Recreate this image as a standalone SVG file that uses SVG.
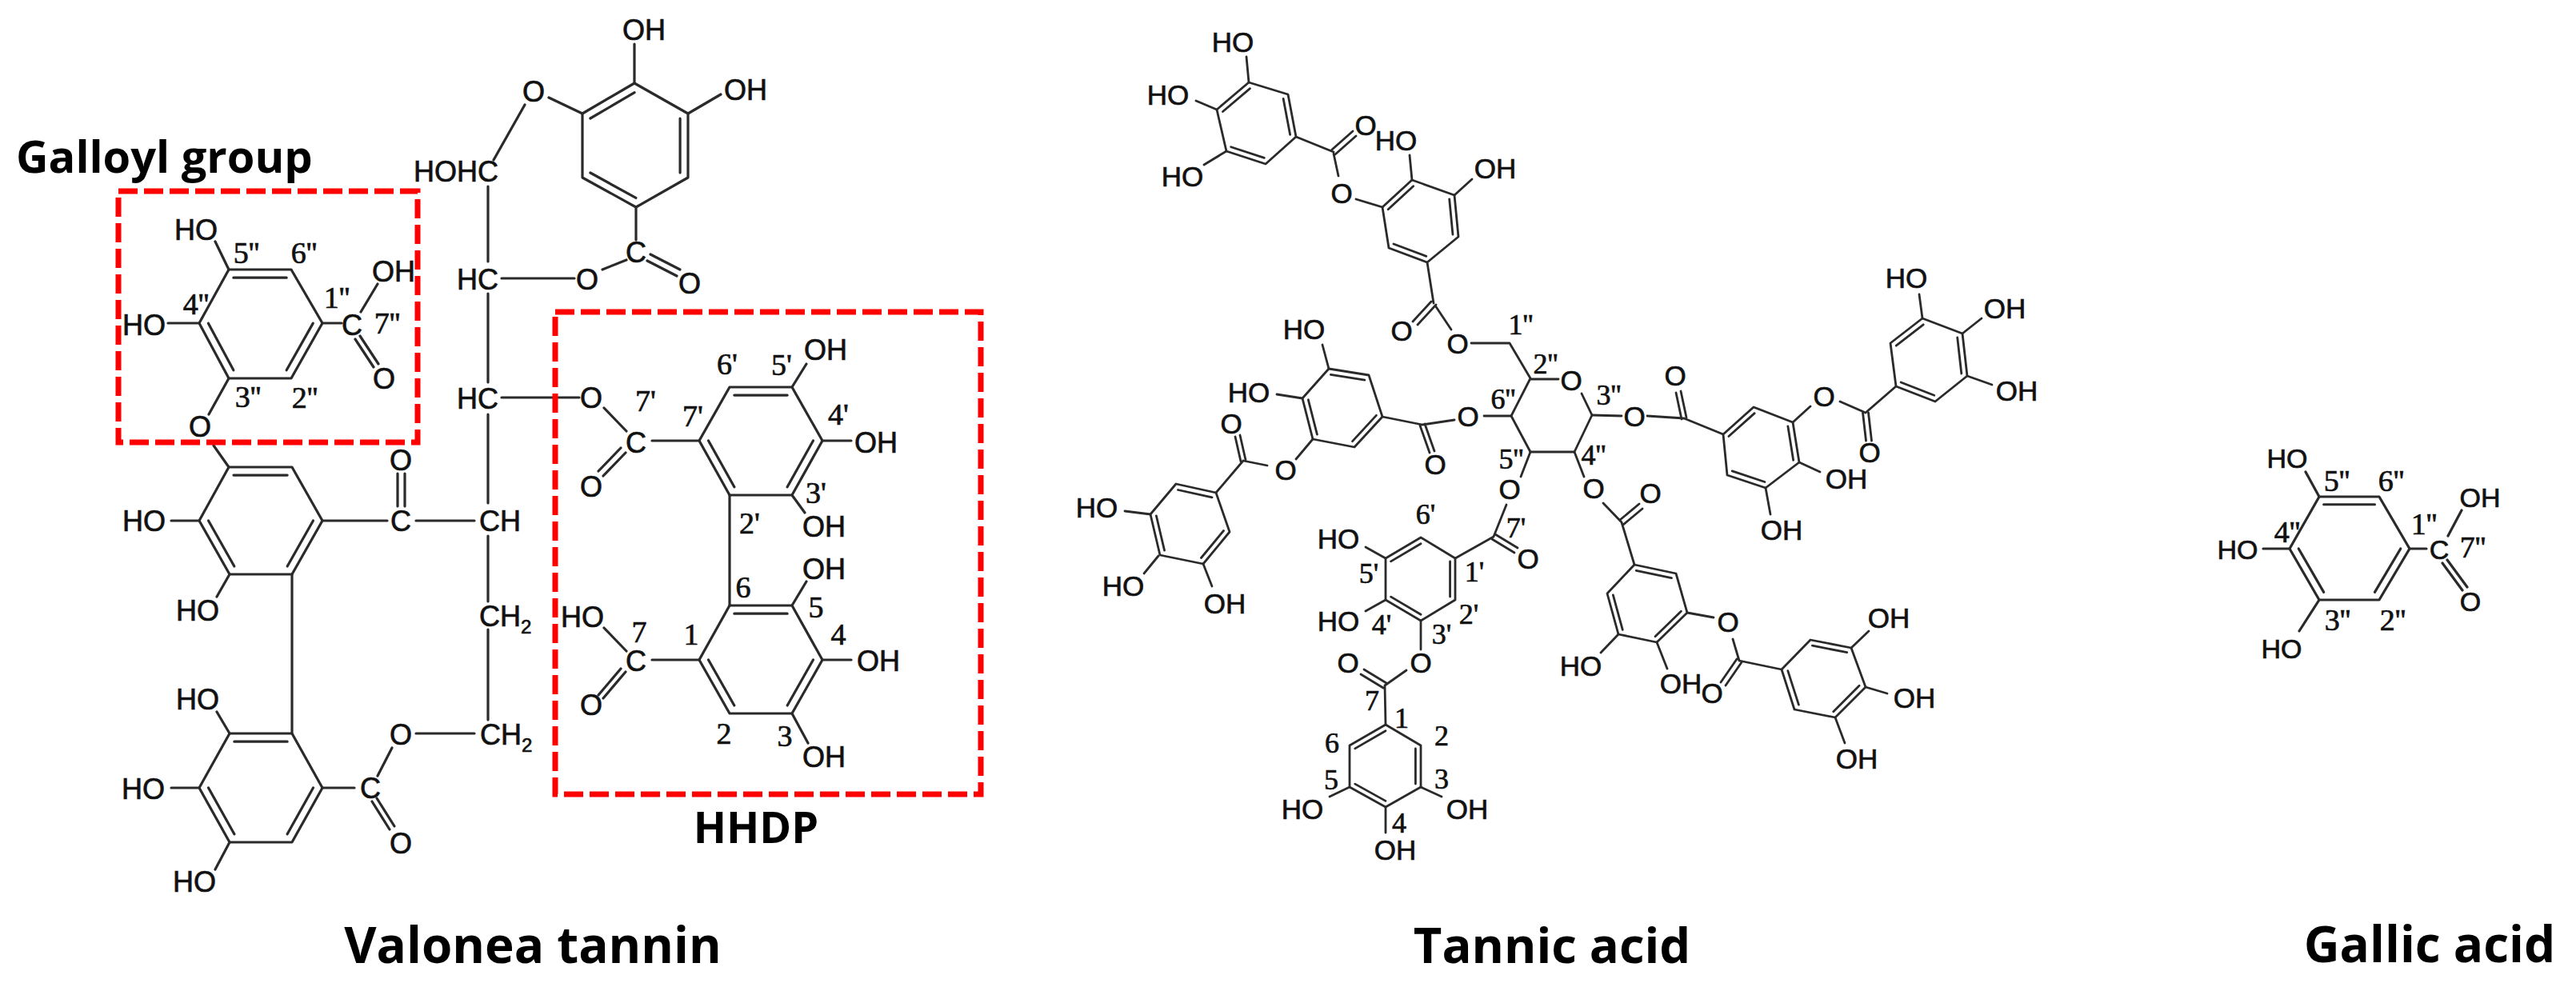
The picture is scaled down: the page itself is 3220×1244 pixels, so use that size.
<svg xmlns="http://www.w3.org/2000/svg" width="3220" height="1244" viewBox="0 0 3220 1244">
<style>
.b{fill:none;stroke:#2a2a2a;stroke-width:3.2;stroke-linecap:round;stroke-linejoin:round}
.t{stroke-width:2.8}
.i{vector-effect:non-scaling-stroke}
text{fill:#111}
.a,.n{text-anchor:middle;dominant-baseline:central}
.a,.s,.n{stroke:#111;stroke-width:.7px}
.a,.s{font-family:"Liberation Sans",Arial,sans-serif;font-size:36px}
.n{font-family:"Liberation Serif","Times New Roman",serif;font-size:38px}
.ta{font-size:35px}
.tn{font-size:36px}
.ga{font-size:34px}
.h{font-family:"Open Sans","Noto Sans",sans-serif;font-weight:700;fill:#000}
.box{fill:none;stroke:#f00;stroke-width:7;stroke-dasharray:24 8}
</style>
<rect width="3220" height="1244" fill="#fff"/>

<g id="connectors">
 <g id="valonea-bonds" class="b">
  <path d="M793 104L860 142L860 222L795 259L728 222L728 142Z"/>
  <path class="i" transform="translate(794 182) scale(.85) translate(-794 -182)" d="M793 104L728 142M860 142L860 222M795 259L728 222"/>
  <path d="M793 55L793 104M860 142L901 118M728 142L686 122M656 131L617 200M610 233L610 327M610 367L610 478M610 518L610 629M610 670L610 752M610 787L610 900"/>
  <path d="M627 348L718 348M753 337L783 325M795 300L795 259M809 326L846 345M813 318L850 337"/>

  <path d="M286 337L364 337L403 404L364 473L286 473L249 404Z"/>
  <path class="i" transform="translate(325 405) scale(.85) translate(-325 -405)" d="M286 337L364 337M249 404L286 473M403 404L364 473"/>
  <path d="M269 302L286 337M210 404L249 404M403 404L427 404M451 390L472 355M450 420L473 455M444 424L467 459M286 473L261 518M267 557L286 584"/>

  <path d="M286 584L365 584L403 651L365 718L287 718L249 651Z"/>
  <path class="i" transform="translate(326 651) scale(.85) translate(-326 -651)" d="M286 584L365 584M249 651L287 718M403 651L365 718"/>
  <path d="M214 651L249 651M287 718L271 746M403 651L484 651M520 651L593 651M497 592L497 633M506 592L506 633M365 718L365 917"/>

  <path d="M287 917L365 917L403 985L365 1053L287 1053L249 985Z"/>
  <path class="i" transform="translate(326 985) scale(.85) translate(-326 -985)" d="M287 917L365 917M249 985L287 1053M403 985L365 1053"/>
  <path d="M271 890L287 917M214 985L249 985M287 1053L269 1087M403 985L443 985M471 998L493 1033M465 1002L487 1037M472 970L490 935M520 917L593 917"/>

  <path d="M912 484L990 484L1028 551L990 619L912 619L874 551Z"/>
  <path class="i" transform="translate(951 551) scale(.85) translate(-951 -551)" d="M912 484L990 484M874 551L912 619M1028 551L990 619"/>
  <path d="M990 484L1008 455M1028 551L1064 551M990 619L1006 641M874 551L815 551M755 510L783 539M627 497L724 497M782 566L754 595M776 560L748 589M912 619L912 757"/>

  <path d="M912 757L990 757L1028 825L990 892L912 892L874 825Z"/>
  <path class="i" transform="translate(951 825) scale(.85) translate(-951 -825)" d="M912 757L990 757M874 825L912 892M1028 825L990 892"/>
  <path d="M990 757L1008 727M1028 825L1064 825M990 892L1010 929M874 825L815 825M755 785L783 814M782 840L754 873M776 836L748 869"/>
 </g>

 <g id="tannic-bonds" class="b t">
  <path d="M1561 103L1610 118L1620 171L1582 205L1533 189L1521 137Z"/>
  <path class="i" transform="translate(1571 154) scale(.85) translate(-1571 -154)" d="M1561 103L1521 137M1610 118L1620 171M1582 205L1533 189"/>
  <path d="M1558 71L1561 103M1495 126L1521 137M1505 206L1533 189M1620 171L1667 190M1669 193L1695 170M1665 187L1691 164M1667 192L1673 220M1695 249L1728 259"/>

  <path d="M1765 225L1818 244L1823 296L1784 328L1736 310L1728 259Z"/>
  <path class="i" transform="translate(1776 277) scale(.85) translate(-1776 -277)" d="M1765 225L1728 259M1818 244L1823 296M1784 328L1736 310"/>
  <path d="M1762 194L1765 225M1840 224L1818 244M1784 328L1792 379M1795 381L1772 406M1789 377L1766 402M1794 382L1814 412M1839 429L1887 429L1913 473M1913 474L1948 474M1977 492L1990 519L1968 565L1913 565L1889 520L1913 473"/>

  <path d="M1855 520L1889 520M1818 525L1778 531M1781 530L1793 564M1775 532L1787 566M1778 531L1728 521"/>
  <path d="M1728 521L1711 469L1661 461L1628 498L1641 549L1693 559Z"/>
  <path class="i" transform="translate(1677 510) scale(.85) translate(-1677 -510)" d="M1661 461L1711 469M1628 498L1641 549M1728 521L1693 559"/>
  <path d="M1653 431L1661 461M1596 493L1628 498M1641 549L1620 574M1584 582L1554 576M1557 575L1550 544M1551 577L1544 546M1554 576L1520 616"/>

  <path d="M1520 616L1470 605L1438 643L1450 694L1504 705L1537 665Z"/>
  <path class="i" transform="translate(1487 655) scale(.85) translate(-1487 -655)" d="M1520 616L1470 605M1438 643L1450 694M1504 705L1537 665"/>
  <path d="M1406 639L1438 643M1448 695L1430 717M1504 705L1515 733"/>

  <path d="M1913 565L1901 596M1883 631L1867 671M1865 674L1893 691M1869 668L1897 685M1867 671L1819 698"/>
  <path d="M1819 698L1776 672L1732 698L1732 750L1776 776L1819 750Z"/>
  <path class="i" transform="translate(1776 724) scale(.85) translate(-1776 -724)" d="M1819 698L1819 750M1776 672L1732 698M1732 750L1776 776"/>
  <path d="M1732 698L1707 684M1732 750L1707 764M1776 776L1776 812M1758 838L1731 857M1733 854L1705 837M1729 860L1701 843M1731 857L1732 906"/>

  <path d="M1732 906L1776 932L1776 984L1732 1009L1687 984L1687 932Z"/>
  <path class="i" transform="translate(1732 958) scale(.85) translate(-1732 -958)" d="M1732 906L1687 932M1776 932L1776 984M1732 1009L1687 984"/>
  <path d="M1662 996L1687 984M1802 996L1776 984M1732 1009L1732 1041"/>

  <path d="M1968 565L1980 596M2004 629L2027 653M2029 656L2053 636M2025 650L2049 630M2027 653L2043 706"/>
  <path d="M2043 706L2095 717L2109 766L2071 803L2023 793L2009 742Z"/>
  <path class="i" transform="translate(2058 755) scale(.85) translate(-2058 -755)" d="M2043 706L2095 717M2109 766L2071 803M2009 742L2023 793"/>
  <path d="M2023 793L2001 816M2071 803L2084 836M2109 766L2142 772M2166 799L2174 826M2177 828L2157 857M2171 824L2151 853M2174 826L2227 837"/>

  <path d="M2227 837L2263 800L2314 810L2332 859L2294 897L2243 887Z"/>
  <path class="i" transform="translate(2279 848) scale(.85) translate(-2279 -848)" d="M2263 800L2314 810M2332 859L2294 897M2227 837L2243 887"/>
  <path d="M2314 810L2336 789M2332 859L2359 867M2294 897L2306 929"/>

  <path d="M1990 519L2027 520M2059 520L2105 523M2108 522L2101 489M2102 524L2095 491M2105 523L2154 543"/>
  <path d="M2154 543L2192 509L2241 528L2249 578L2207 610L2159 594Z"/>
  <path class="i" transform="translate(2200 560) scale(.85) translate(-2200 -560)" d="M2154 543L2192 509M2241 528L2249 578M2207 610L2159 594"/>
  <path d="M2249 578L2275 590M2207 610L2213 643M2241 528L2263 508M2300 502L2332 516M2335.500 516L2339.500 551M2328.500 516L2332.500 551M2332 516L2370 483"/>

  <path d="M2370 483L2363 429L2403 398L2453 417L2459 470L2419 502Z"/>
  <path class="i" transform="translate(2411 450) scale(.85) translate(-2411 -450)" d="M2363 429L2403 398M2453 417L2459 470M2370 483L2419 502"/>
  <path d="M2403 398L2399 368M2453 417L2477 398M2459 470L2490 481"/>
 </g>

 <g id="gallic-bonds" class="b">
  <path d="M2899 621L2974 621L3012 686L2974 750L2899 750L2862 686Z"/>
  <path class="i" transform="translate(2937 686) scale(.85) translate(-2937 -686)" d="M2899 621L2974 621M2862 686L2899 750M3012 686L2974 750"/>
  <path d="M2899 621L2882 590M2829 686L2862 686M2899 750L2874 789M3012 686L3033 686M3060 670L3077 638M3059 700L3084 734M3053 704L3078 738"/>
 </g>
</g>

<g id="galloyl-box"><rect class="box" x="148" y="239" width="374" height="314"/></g>
<g id="hhdp-box"><rect class="box" x="694" y="390" width="532" height="603"/></g>

<g id="valonea-tannin">
 <g class="atoms">
  <text class="a" x="805" y="37">OH</text><text class="a" x="932" y="112">OH</text><text class="a" x="667" y="114">O</text>
  <text class="a" x="570" y="214">HOHC</text><text class="a" x="597" y="349">HC</text><text class="a" x="734" y="349">O</text>
  <text class="a" x="795" y="315">C</text><text class="a" x="862" y="354">O</text>
  <text class="a" x="245" y="287">HO</text><text class="a" x="180" y="406">HO</text><text class="a" x="440" y="406">C</text>
  <text class="a" x="492" y="339">OH</text><text class="a" x="480" y="473">O</text><text class="a" x="250" y="533">O</text>
  <text class="a" x="597" y="498">HC</text><text class="a" x="739" y="497">O</text><text class="a" x="795" y="553">C</text><text class="a" x="739" y="608">O</text>
  <text class="a" x="1032" y="437">OH</text><text class="a" x="1095" y="553">OH</text><text class="a" x="1030" y="658">OH</text>
  <text class="a" x="501" y="575">O</text><text class="a" x="501" y="651">C</text><text class="a" x="625" y="651">CH</text>
  <text class="a" x="180" y="651">HO</text><text class="a" x="247" y="763">HO</text>
  <text class="s" x="599" y="783">CH<tspan dy="9" font-size="24">2</tspan></text>
  <text class="s" x="600" y="931">CH<tspan dy="9" font-size="24">2</tspan></text>
  <text class="a" x="501" y="918">O</text><text class="a" x="463" y="985">C</text><text class="a" x="501" y="1054">O</text>
  <text class="a" x="247" y="874">HO</text><text class="a" x="179" y="986">HO</text><text class="a" x="243" y="1102">HO</text>
  <text class="a" x="1030" y="711">OH</text><text class="a" x="1098" y="826">OH</text><text class="a" x="1030" y="946">OH</text>
  <text class="a" x="795" y="826">C</text><text class="a" x="728" y="771">HO</text><text class="a" x="739" y="881">O</text>
 </g>
 <g class="numbers">
  <text class="n" x="308" y="316">5''</text><text class="n" x="380" y="316">6''</text><text class="n" x="421" y="372">1''</text>
  <text class="n" x="484" y="404">7''</text><text class="n" x="245" y="380">4''</text><text class="n" x="310" y="496">3''</text><text class="n" x="381" y="497">2''</text>
  <text class="n" x="909" y="455">6'</text><text class="n" x="977" y="456">5'</text><text class="n" x="807" y="501">7'</text><text class="n" x="866" y="520">7'</text>
  <text class="n" x="1048" y="518">4'</text><text class="n" x="1020" y="616">3'</text><text class="n" x="937" y="654">2'</text>
  <text class="n" x="929" y="734">6</text><text class="n" x="1020" y="759">5</text><text class="n" x="799" y="790">7</text><text class="n" x="864" y="793">1</text>
  <text class="n" x="1048" y="793">4</text><text class="n" x="905" y="917">2</text><text class="n" x="981" y="920">3</text>
 </g>
</g>

<g id="tannic-acid">
 <g class="atoms">
  <text class="a ta" x="1541" y="52">HO</text><text class="a ta" x="1460" y="118">HO</text><text class="a ta" x="1478" y="220">HO</text>
  <text class="a ta" x="1707" y="156">O</text><text class="a ta" x="1677" y="241">O</text><text class="a ta" x="1745" y="175">HO</text><text class="a ta" x="1869" y="210">OH</text>
  <text class="a ta" x="1752" y="413">O</text><text class="a ta" x="1822" y="429">O</text><text class="a ta" x="1964" y="475">O</text>
  <text class="a ta" x="1835" y="520">O</text><text class="a ta" x="1794" y="580">O</text><text class="a ta" x="1630" y="411">HO</text><text class="a ta" x="1561" y="490">HO</text>
  <text class="a ta" x="1607" y="587">O</text><text class="a ta" x="1539" y="529">O</text><text class="a ta" x="1371" y="634">HO</text><text class="a ta" x="1404" y="732">HO</text><text class="a ta" x="1531" y="754">OH</text>
  <text class="a ta" x="1887" y="611">O</text><text class="a ta" x="1910" y="698">O</text><text class="a ta" x="1673" y="673">HO</text><text class="a ta" x="1673" y="776">HO</text>
  <text class="a ta" x="1776" y="828">O</text><text class="a ta" x="1685" y="828">O</text><text class="a ta" x="1628" y="1011">HO</text><text class="a ta" x="1834" y="1011">OH</text><text class="a ta" x="1744" y="1062">OH</text>
  <text class="a ta" x="1992" y="610">O</text><text class="a ta" x="2063" y="616">O</text><text class="a ta" x="1976" y="832">HO</text><text class="a ta" x="2101" y="854">OH</text>
  <text class="a ta" x="2160" y="777">O</text><text class="a ta" x="2140" y="866">O</text><text class="a ta" x="2361" y="772">OH</text><text class="a ta" x="2393" y="872">OH</text><text class="a ta" x="2321" y="948">OH</text>
  <text class="a ta" x="2043" y="520">O</text><text class="a ta" x="2094" y="469">O</text><text class="a ta" x="2308" y="598">OH</text><text class="a ta" x="2227" y="662">OH</text>
  <text class="a ta" x="2280" y="495">O</text><text class="a ta" x="2337" y="565">O</text><text class="a ta" x="2383" y="347">HO</text><text class="a ta" x="2506" y="385">OH</text><text class="a ta" x="2521" y="488">OH</text>
 </g>
 <g class="numbers">
  <text class="n tn" x="1901" y="406">1''</text><text class="n tn" x="1932" y="455">2''</text><text class="n tn" x="2011" y="494">3''</text><text class="n tn" x="1879" y="499">6''</text><text class="n tn" x="1889" y="574">5''</text><text class="n tn" x="1992" y="569">4''</text>
  <text class="n tn" x="1782" y="643">6'</text><text class="n tn" x="1895" y="660">7'</text><text class="n tn" x="1843" y="715">1'</text><text class="n tn" x="1711" y="717">5'</text><text class="n tn" x="1836" y="768">2'</text><text class="n tn" x="1727" y="781">4'</text><text class="n tn" x="1802" y="793">3'</text>
  <text class="n tn" x="1715" y="876">7</text><text class="n tn" x="1752" y="898">1</text><text class="n tn" x="1665" y="929">6</text><text class="n tn" x="1802" y="920">2</text><text class="n tn" x="1664" y="975">5</text><text class="n tn" x="1802" y="974">3</text><text class="n tn" x="1749" y="1029">4</text>
 </g>
</g>

<g id="gallic-acid">
 <g class="atoms">
  <text class="a ga" x="2859" y="573">HO</text><text class="a ga" x="2797" y="687">HO</text><text class="a ga" x="2852" y="811">HO</text>
  <text class="a ga" x="3049" y="687">C</text><text class="a ga" x="3100" y="622">OH</text><text class="a ga" x="3088" y="752">O</text>
 </g>
 <g class="numbers">
  <text class="n" x="2921" y="601">5''</text><text class="n" x="2989" y="601">6''</text><text class="n" x="3030" y="655">1''</text><text class="n" x="3091" y="684">7''</text>
  <text class="n" x="2859" y="665">4''</text><text class="n" x="2922" y="775">3''</text><text class="n" x="2991" y="775">2''</text>
 </g>
</g>

<g id="captions">
 <text class="h" x="20" y="216" font-size="56">Galloyl group</text>
 <text class="h" x="945" y="1054" font-size="54" text-anchor="middle">HHDP</text>
 <text class="h" x="666" y="1204" font-size="62" text-anchor="middle">Valonea tannin</text>
 <text class="h" x="1940" y="1204" font-size="61.500" text-anchor="middle">Tannic acid</text>
 <text class="h" x="3037" y="1203" font-size="62" text-anchor="middle">Gallic acid</text>
</g>
</svg>
